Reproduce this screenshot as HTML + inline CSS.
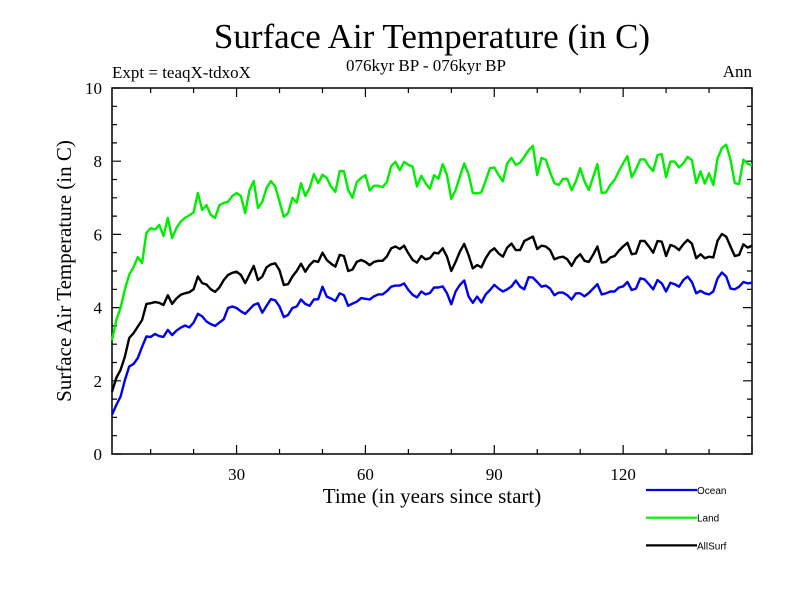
<!DOCTYPE html>
<html><head><meta charset="utf-8"><style>
body{margin:0;background:#fff;}
svg text{font-family:"Liberation Serif",serif;}
svg text.sans{font-family:"Liberation Sans",sans-serif;}
</style></head><body>
<svg id="chart" width="800" height="600" xmlns="http://www.w3.org/2000/svg">
<rect width="800" height="600" fill="#fff"/>
<text x="432" y="48" font-size="35" text-anchor="middle">Surface Air Temperature (in C)</text>
<text x="112" y="78" font-size="17">Expt = teaqX-tdxoX</text>
<text x="426" y="71" font-size="17" text-anchor="middle">076kyr BP - 076kyr BP</text>
<text x="752" y="77" font-size="17" text-anchor="end">Ann</text>
<text transform="translate(71,271) rotate(-90)" font-size="21" text-anchor="middle">Surface Air Temperature (in C)</text>
<text x="432" y="503" font-size="21" text-anchor="middle">Time (in years since start)</text>
<g id="axes"></g>
<g id="series"></g>
<g id="legend"></g>
</svg>
<script>
const years = Array.from({length:150},(_,i)=>i+1);
const landValues = [3.11,3.66,4.0,4.5,4.9,5.1,5.38,5.22,6.04,6.17,
6.13,6.26,5.96,6.45,5.90,6.17,6.35,6.45,6.52,6.6,
7.13,6.67,6.8,6.53,6.45,6.8,6.86,6.89,7.05,7.13,
7.05,6.58,7.2,7.46,6.72,6.89,7.27,7.46,7.31,6.9,
6.48,6.58,7.0,6.87,7.4,7.05,7.27,7.65,7.4,7.63,
7.54,7.3,7.16,7.73,7.73,7.21,7.0,7.43,7.54,7.62,
7.2,7.33,7.33,7.29,7.43,7.87,7.98,7.75,7.98,7.9,
7.85,7.31,7.6,7.4,7.25,7.62,7.52,7.92,7.62,6.97,
7.21,7.58,7.94,7.65,7.13,7.12,7.15,7.47,7.81,7.83,
7.62,7.45,7.94,8.09,7.9,7.96,8.12,8.3,8.42,7.62,
8.09,8.04,7.7,7.4,7.35,7.52,7.52,7.21,7.45,7.81,
7.45,7.21,7.56,7.92,7.13,7.15,7.35,7.49,7.72,7.94,
8.14,7.56,7.78,8.05,8.05,7.86,7.73,8.17,8.19,7.56,
7.99,7.99,7.83,7.94,8.12,8.03,7.40,7.72,7.39,7.67,
7.35,8.08,8.36,8.45,8.04,7.40,7.38,8.04,7.93,7.9];
const allSurfValues = [1.70,2.08,2.3,2.66,3.17,3.3,3.48,3.66,4.1,4.12,
4.15,4.13,4.07,4.34,4.1,4.25,4.35,4.39,4.42,4.5,
4.85,4.67,4.63,4.5,4.43,4.55,4.75,4.89,4.95,4.98,
4.89,4.67,4.9,5.14,4.75,4.85,5.1,5.18,5.21,5.02,
4.62,4.64,4.85,5.0,5.2,4.98,5.16,5.28,5.25,5.5,
5.3,5.2,5.12,5.44,5.41,5.0,5.04,5.25,5.3,5.25,
5.16,5.25,5.28,5.28,5.4,5.62,5.67,5.6,5.69,5.48,
5.3,5.23,5.41,5.32,5.35,5.5,5.48,5.62,5.39,5.0,
5.25,5.53,5.74,5.44,5.07,5.16,5.1,5.35,5.53,5.62,
5.48,5.39,5.64,5.75,5.57,5.57,5.82,5.88,5.94,5.6,
5.69,5.67,5.57,5.32,5.37,5.39,5.32,5.14,5.35,5.46,
5.28,5.25,5.44,5.67,5.23,5.25,5.37,5.41,5.55,5.67,
5.77,5.46,5.48,5.82,5.82,5.67,5.5,5.82,5.8,5.41,
5.71,5.67,5.57,5.73,5.85,5.75,5.35,5.46,5.35,5.39,
5.37,5.83,6.01,5.94,5.67,5.41,5.44,5.73,5.64,5.69];
const oceanValues = [1.07,1.34,1.57,2.02,2.39,2.46,2.62,2.93,3.21,3.2,
3.28,3.22,3.2,3.39,3.25,3.37,3.45,3.51,3.46,3.59,
3.83,3.76,3.62,3.55,3.5,3.59,3.68,3.99,4.03,3.99,
3.9,3.83,3.95,4.07,4.12,3.86,4.05,4.23,4.2,4.03,
3.74,3.8,3.99,4.03,4.22,4.1,4.05,4.22,4.23,4.57,
4.3,4.25,4.18,4.39,4.34,4.05,4.11,4.16,4.26,4.24,
4.22,4.31,4.36,4.36,4.45,4.57,4.6,4.6,4.66,4.48,
4.35,4.28,4.44,4.36,4.4,4.55,4.55,4.58,4.39,4.09,
4.44,4.62,4.74,4.31,4.13,4.3,4.14,4.36,4.48,4.62,
4.52,4.44,4.5,4.58,4.74,4.57,4.5,4.83,4.82,4.7,
4.57,4.6,4.52,4.34,4.41,4.41,4.34,4.22,4.39,4.39,
4.31,4.4,4.52,4.64,4.36,4.39,4.44,4.44,4.55,4.58,
4.7,4.48,4.52,4.8,4.77,4.64,4.5,4.75,4.66,4.44,
4.68,4.64,4.57,4.75,4.85,4.7,4.39,4.46,4.39,4.36,
4.44,4.8,4.96,4.85,4.52,4.5,4.57,4.7,4.66,4.68];
const yTickLabels = [0,2,4,6,8,10];
const xTickLabels = [30,60,90,120];
const legendNames = ["Ocean","Land","AllSurf"];

const NS="http://www.w3.org/2000/svg";
const L=112,R=752,T=88,B=454;
const xMin=1,xMax=150,yMin=0,yMax=10;
const xs=v=>L+(v-xMin)/(xMax-xMin)*(R-L);
const ys=v=>B-(v-yMin)/(yMax-yMin)*(B-T);
function mk(tag,attrs,parent){const e=document.createElementNS(NS,tag);for(const k in attrs)e.setAttribute(k,attrs[k]);parent.appendChild(e);return e;}
const axes=document.getElementById('axes');
const frame=mk('rect',{x:L,y:T,width:R-L,height:B-T,fill:'none',stroke:'#000','stroke-width':1.5},axes);


let tp='';
for(let v=0;v<=10.001;v+=0.5){const y=ys(v);const len=(Math.abs(v%2)<1e-6)?9:5;tp+=`M${L} ${y}h${len}M${R} ${y}h${-len}`;}
for(let v=10;v<=150;v+=10){const x=xs(v);const len=(v%30===0)?9:5;tp+=`M${x} ${B}v${-len}M${x} ${T}v${len}`;}
const ticks=mk('path',{d:tp,stroke:'#000','stroke-width':1.2,fill:'none'},axes);


yTickLabels.forEach(v=>{const t=mk('text',{x:L-10,y:ys(v)+6,'font-size':17,'text-anchor':'end'},axes);t.textContent=v;

});
xTickLabels.forEach(v=>{const t=mk('text',{x:xs(v),y:B+26,'font-size':17,'text-anchor':'middle'},axes);t.textContent=v;

});
const ser=document.getElementById('series');
const defs=[[landValues,'#00ee00','land-line'],[allSurfValues,'#000000','allsurf-line'],[oceanValues,'#0000ee','ocean-line']];
defs.forEach(([vals,col,name])=>{
 const d=vals.map((v,i)=>(i?'L':'M')+xs(years[i]).toFixed(1)+' '+ys(v).toFixed(1)).join('');
 const p=mk('path',{d:d,stroke:col,'stroke-width':2.4,fill:'none','stroke-linejoin':'round'},ser);
 
 
});
const lg=document.getElementById('legend');
const lcols=['#0000ee','#00ee00','#000000'];
legendNames.forEach((n,i)=>{const y=490+i*27.7;
 const g=mk('g',{},lg);
 
 
 mk('line',{x1:646,x2:697,y1:y,y2:y,stroke:lcols[i],'stroke-width':2.2},g);
 const t=mk('text',{x:697,y:y+4,'font-size':10,'class':'sans'},g);t.textContent=n;
});
</script>
</body></html>
